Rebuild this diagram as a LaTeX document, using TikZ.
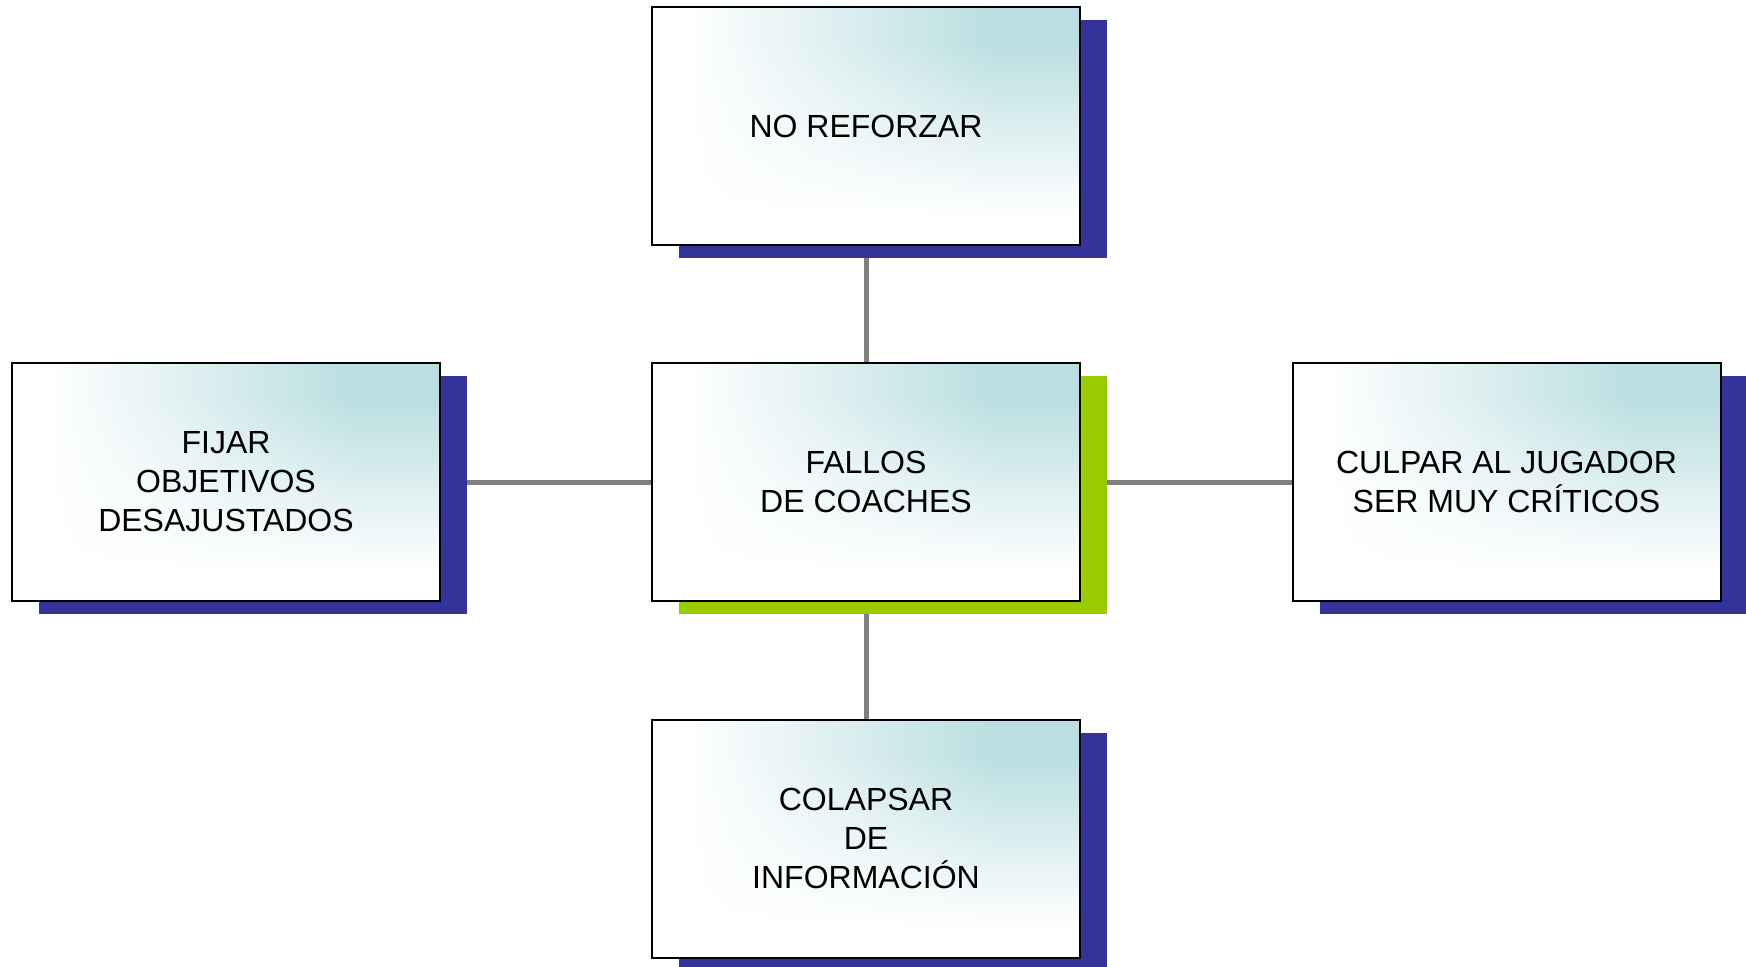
\documentclass[tikz,border=0pt]{standalone}
\usepackage{fontspec}
\setmainfont{Liberation Sans}
\usetikzlibrary{shadows}
\definecolor{shblue}{HTML}{333399}
\definecolor{shgreen}{HTML}{99CC00}
\definecolor{linegray}{HTML}{808080}
\pgfdeclarelayer{background}
\pgfsetlayers{background,main}
\pgfdeclarefunctionalshading{twod}{\pgfpointorigin}{\pgfpoint{100bp}{100bp}}{}{
  25 sub 50 div
  0.12 sub 0.73 div dup 0 lt {pop 0} if dup 1 gt {pop 1} if
  exch 25 sub 50 div 0.08 sub 0.72 div dup 0 lt {pop 0} if dup 1 gt {pop 1} if
  mul
  dup 0.271 mul 1 exch sub
  exch dup 0.129 mul 1 exch sub
  exch 0.118 mul 1 exch sub
}
\begin{document}
\begin{tikzpicture}[x=0.5pt,y=-0.5pt,
  box/.style={draw=black, line width=1pt, minimum width=214pt, minimum height=119pt,
    inner sep=0pt, align=center, font=\fontsize{16}{19.5}\selectfont,
    shade, shading=twod},
  blueshadow/.style={general shadow={fill=shblue, shadow xshift=13.5pt, shadow yshift=-6.5pt}},
  greenshadow/.style={general shadow={fill=shgreen, shadow xshift=13.5pt, shadow yshift=-6.5pt}},
  conn/.style={draw=linegray, line width=2.5pt}
]
\clip (0,0) rectangle (1746,966);
\node[box, blueshadow] (top) at (866,126) {NO REFORZAR};
\node[box, greenshadow] (center) at (866,482) {FALLOS\\DE COACHES};
\node[box, blueshadow] (left) at (226,482) {FIJAR\\OBJETIVOS\\DESAJUSTADOS};
\node[box, blueshadow] (right) at (1506.5,482) {CULPAR AL JUGADOR\\SER MUY CRÍTICOS};
\node[box, blueshadow] (bottom) at (866,838.5) {COLAPSAR\\DE\\INFORMACIÓN};
\begin{pgfonlayer}{background}
\draw[conn] (top) -- (center);
\draw[conn] (center) -- (bottom);
\draw[conn] (left) -- (center);
\draw[conn] (center) -- (right);
\end{pgfonlayer}
\end{tikzpicture}
\end{document}
